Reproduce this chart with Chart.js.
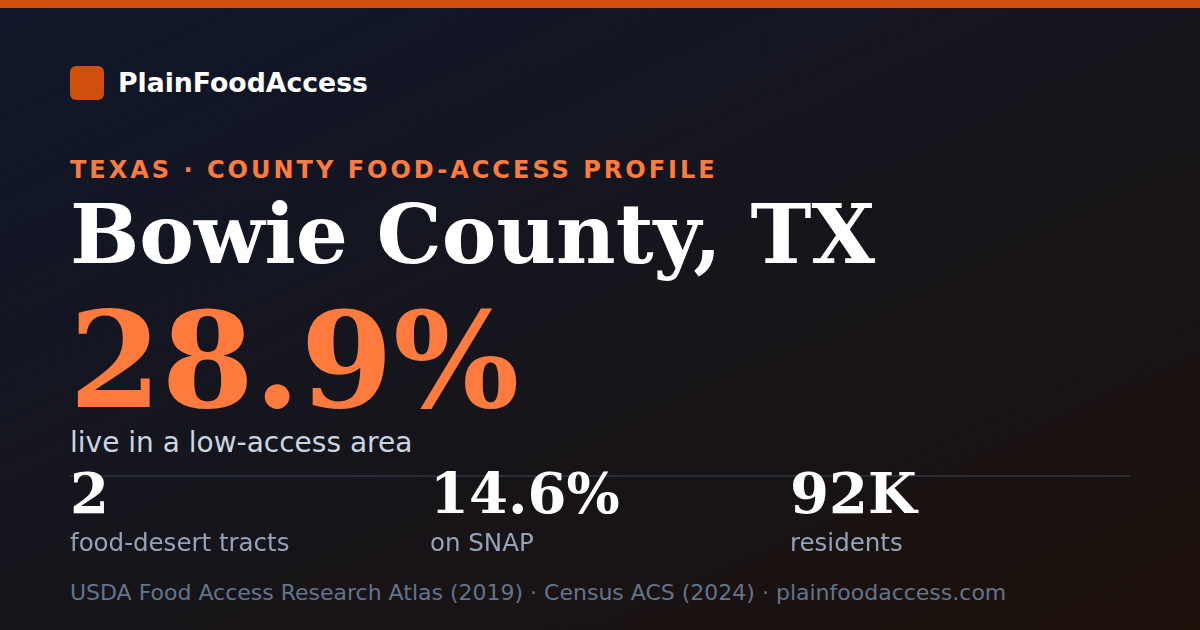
<!DOCTYPE html>
<html>
<head>
<meta charset="utf-8">
<script src="https://cdn.jsdelivr.net/npm/chart.js@4"></script>
<style>
  html, body { margin: 0; padding: 0; }
  body { width: 1200px; height: 630px; overflow: hidden; font-family: "DejaVu Sans", sans-serif; }
  #card {
    position: relative; width: 1200px; height: 630px;
    background: linear-gradient(155deg, #0f172a 0%, #16151c 50%, #1c1009 100%);
  }
  #topbar { position: absolute; left: 0; top: 0; width: 1200px; height: 8px; background: #cf500d; }
  #logo { position: absolute; left: 70px; top: 66px; width: 34px; height: 34px; border-radius: 6px; background: #cf500d; }
  #brand { position: absolute; left: 118px; top: 66.5px; font-size: 26.7px; font-weight: bold; color: #fff; line-height: 32px; }
  #kicker { position: absolute; left: 70px; top: 154.5px; font-size: 24px; font-weight: bold; color: #ff7a3d; letter-spacing: 3px; line-height: 30px; white-space: nowrap; }
  #title { position: absolute; left: 70px; top: 185.5px; font-family: "DejaVu Serif", serif; font-weight: bold; font-size: 82px; color: #fff; line-height: 96px; white-space: nowrap; }
  #big { position: absolute; left: 69px; top: 296px; font-family: "DejaVu Serif", serif; font-weight: bold; font-size: 133px; color: #ff7a3d; line-height: 128px; }
  #bigLabel { position: absolute; left: 70px; top: 429px; font-size: 28px; color: #cbd5e1; line-height: 28px; }
  #divider { position: absolute; left: 70px; top: 471px; }
  .stat { position: absolute; top: 460px; }
  .stat .v { font-family: "DejaVu Serif", serif; font-weight: bold; font-size: 56px; color: #fff; line-height: 66px; }
  .stat .l { font-size: 24.5px; color: #94a3b8; line-height: 30px; margin-top: 1.5px; }
  #source { position: absolute; left: 70px; top: 577.5px; font-size: 22px; color: #64748b; line-height: 30px; white-space: nowrap; }
</style>
</head>
<body>
<div id="card">
  <div id="topbar"></div>
  <div id="logo"></div>
  <div id="brand"></div>
  <div id="kicker"></div>
  <div id="title"></div>
  <canvas id="divider" width="1060" height="10"></canvas>
  <div id="big"></div>
  <div id="bigLabel"></div>
  <div id="stats"></div>
  <div id="source"></div>
</div>
<script>
const brandName = 'PlainFoodAccess';
const kickerText = 'TEXAS · COUNTY FOOD-ACCESS PROFILE';
const countyName = 'Bowie County, TX';
const headlineValue = '28.9%';
const headlineLabel = 'live in a low-access area';
const statValues = ['2', '14.6%', '92K'];
const statLabels = ['food-desert tracts', 'on SNAP', 'residents'];
const sourceText = 'USDA Food Access Research Atlas (2019) · Census ACS (2024) · plainfoodaccess.com';

document.getElementById('brand').textContent = brandName;
document.getElementById('kicker').textContent = kickerText;
document.getElementById('title').textContent = countyName;
document.getElementById('big').textContent = headlineValue;
document.getElementById('bigLabel').textContent = headlineLabel;
document.getElementById('source').textContent = sourceText;

const stats = document.getElementById('stats');
statValues.forEach((v, i) => {
    const d = document.createElement('div');
    d.className = 'stat';
    d.style.left = (70 + i * 360) + 'px';
    d.innerHTML = '<div class="v"></div><div class="l"></div>';
    d.querySelector('.v').textContent = v;
    d.querySelector('.l').textContent = statLabels[i];
    stats.appendChild(d);
});

/* divider rule drawn as a flat line chart behind the stats row */
new Chart(document.getElementById('divider').getContext('2d'), {
    type: 'line',
    data: {
        labels: [0, 1],
        datasets: [{ data: [1, 1], borderColor: '#262c38', borderWidth: 2, pointRadius: 0 }]
    },
    options: {
        responsive: false, animation: false,
        layout: { padding: 0 },
        plugins: { legend: { display: false }, tooltip: { enabled: false } },
        scales: {
            x: { display: false, offset: false },
            y: { display: false, min: 0, max: 2 }
        }
    }
});
</script>
</body>
</html>
